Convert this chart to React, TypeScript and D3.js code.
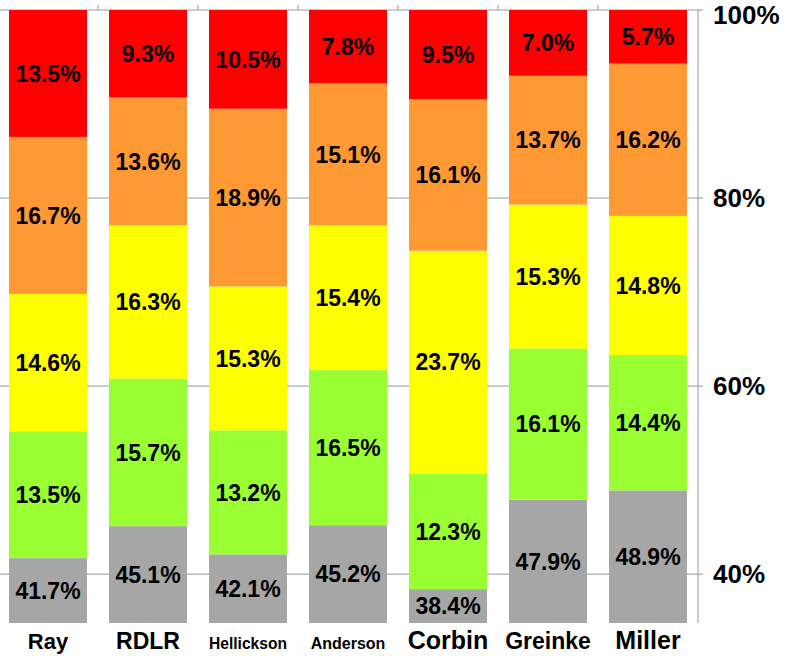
import React from "react";
import * as d3 from "d3";

const categories = ["Ray", "RDLR", "Hellickson", "Anderson", "Corbin", "Greinke", "Miller"];
const categoryFontSizes = [22, 23, 15.6, 16, 25, 23, 25];
const seriesKeys = ["gray", "green", "yellow", "orange", "red"];
const grayValues = [41.7, 45.1, 42.1, 45.2, 38.4, 47.9, 48.9];
const greenValues = [13.5, 15.7, 13.2, 16.5, 12.3, 16.1, 14.4];
const yellowValues = [14.6, 16.3, 15.3, 15.4, 23.7, 15.3, 14.8];
const orangeValues = [16.7, 13.6, 18.9, 15.1, 16.1, 13.7, 16.2];
const redValues = [13.5, 9.3, 10.5, 7.8, 9.5, 7.0, 5.7];
const colors = ["#a6a6a6", "#99ff33", "#ffff00", "#ff9933", "#ff0000"];
const yTicks = [40, 60, 80, 100];

const W = 789;
const H = 656;
const axisX = 698;
const top = 10;
const bottom = 623;

export default function App() {
  const rows = categories.map((c, i) => ({
    cat: c,
    gray: grayValues[i],
    green: greenValues[i],
    yellow: yellowValues[i],
    orange: orangeValues[i],
    red: redValues[i],
  }));
  const stacked = d3.stack<any>().keys(seriesKeys)(rows);
  const x = d3.scaleBand().domain(categories).range([-2, axisX]).paddingInner(0.22).paddingOuter(0.11);
  const y = d3.scaleLinear().domain([34.8, 100]).range([bottom, top]);
  const yMin = 34.8;
  const boundaries = categories.map((c) => (x(c) as number) - x.step() * 0.11).slice(1);

  return (
    <svg width={W} height={H} style={{ position: "absolute", left: 0, top: 0, background: "#fff" }}
      fontFamily="'Liberation Sans', Arial, Helvetica, sans-serif">
      {yTicks.map((t) => (
        <line key={"g" + t} x1={0} x2={axisX + 5} y1={y(t)} y2={y(t)} stroke="#999" strokeWidth={1} />
      ))}
      {boundaries.map((b, i) => (
        <line key={"tb" + i} x1={b} x2={b} y1={top - 5} y2={top} stroke="#999" strokeWidth={1} />
      ))}
      <line x1={axisX} x2={axisX} y1={top} y2={bottom} stroke="#999" strokeWidth={1} />
      {stacked.map((s, si) => (
        <g key={s.key}>
          {s.map((d, i) => {
            const y0 = y(Math.max(d[0], yMin));
            const y1 = y(d[1]);
            const bx = x(categories[i]) as number;
            const val = (d.data as any)[s.key] as number;
            return (
              <g key={i}>
                <rect x={bx} y={y1} width={x.bandwidth()} height={y0 - y1} fill={colors[si]} />
                <text
                  x={bx + x.bandwidth() / 2}
                  y={(y0 + y1) / 2}
                  dy="0.36em"
                  textAnchor="middle"
                  fontSize={23}
                  fontWeight="bold"
                  fill="#000"
                >
                  {val.toFixed(1) + "%"}
                </text>
              </g>
            );
          })}
        </g>
      ))}
      {yTicks.map((t) => (
        <text key={"yl" + t} x={713} y={Math.max(y(t), 15)} dy="0.36em" fontSize={26} fontWeight="bold" fill="#000">
          {t + "%"}
        </text>
      ))}
      {categories.map((c, i) => (
        <text key={"xl" + c} x={(x(c) as number) + x.bandwidth() / 2} y={649} textAnchor="middle"
          fontSize={categoryFontSizes[i]} fontWeight="bold" fill="#000">
          {c}
        </text>
      ))}
    </svg>
  );
}
